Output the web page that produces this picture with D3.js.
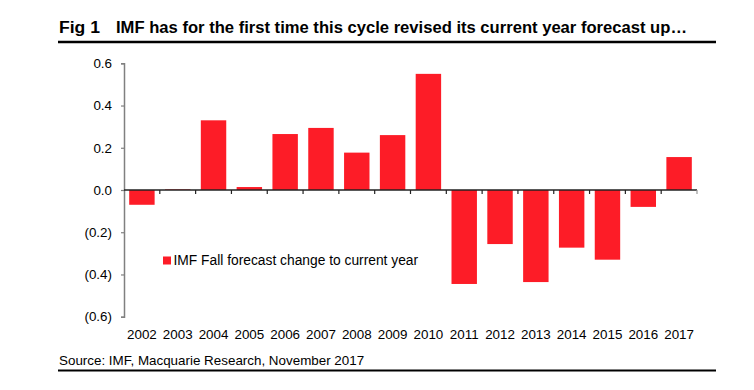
<!DOCTYPE html>
<html>
  <head>
    <meta charset="utf-8">
    <title>IMF forecast revisions</title>
    <script src="https://cdn.jsdelivr.net/npm/d3@7"></script>
    <style>
      body
      {
        margin: 0px;
        padding: 0px;
        background: white;
        font-family: "Liberation Sans", Arial, sans-serif;
      }

      .bar
      {
        fill: #fd1c27;
      }

      .tickLabel
      {
        font-size: 13.4px;
        fill: black;
      }
    </style>
  </head>
  <body>
    <svg id="chart"></svg>

    <script>

      //--- Data
      var years = ["2002", "2003", "2004", "2005", "2006", "2007", "2008", "2009",
                   "2010", "2011", "2012", "2013", "2014", "2015", "2016", "2017"];
      var revisions = [-0.07, 0.003, 0.33, 0.014, 0.265, 0.294, 0.177, 0.26,
                       0.55, -0.445, -0.256, -0.436, -0.273, -0.33, -0.08, 0.156];
      var yTicks = [-0.6, -0.4, -0.2, 0.0, 0.2, 0.4, 0.6];

      var titleFig = "Fig 1";
      var titleText = "IMF has for the first time this cycle revised its current year forecast up\u2026";
      var legendText = "IMF Fall forecast change to current year";
      var sourceText = "Source: IMF, Macquarie Research, November 2017";

      var width = 754, height = 390;

      var svg = d3.select("#chart")
          .attr("width", width)
          .attr("height", height);

      //--- Scales
      var x = d3.scaleBand()
          .domain(years)
          .range([124, 697])
          .paddingInner(0.29)
          .paddingOuter(0.145);

      var y = d3.scaleLinear()
          .domain([-0.6, 0.6])
          .range([316.7, 63.3]);

      var fmt = d => d < 0 ? "(" + Math.abs(d).toFixed(1) + ")" : d.toFixed(1);

      //--- Title
      svg.append("text")
          .attr("x", 59)
          .attr("y", 33)
          .attr("font-size", "16px")
          .attr("font-weight", "bold")
          .attr("textLength", 41)
          .attr("lengthAdjust", "spacingAndGlyphs")
          .text(titleFig);

      svg.append("text")
          .attr("x", 116)
          .attr("y", 33)
          .attr("font-size", "16px")
          .attr("font-weight", "bold")
          .attr("textLength", 571)
          .attr("lengthAdjust", "spacingAndGlyphs")
          .text(titleText);

      svg.append("line")
          .attr("x1", 58).attr("x2", 716)
          .attr("y1", 42).attr("y2", 42)
          .attr("stroke", "black")
          .attr("stroke-width", 2.5);

      //--- Bars
      svg.append("g")
          .selectAll("rect")
          .data(years)
          .enter()
            .append("rect")
              .classed("bar", true)
              .attr("x", d => x(d))
              .attr("width", x.bandwidth())
              .attr("y", (d, i) => y(Math.max(0, revisions[i])))
              .attr("height", (d, i) => Math.abs(y(revisions[i]) - y(0)));

      //--- Y axis
      var yAxis = svg.append("g")
          .attr("transform", "translate(124,0)")
          .call(d3.axisLeft(y).tickValues(yTicks).tickFormat(fmt).tickSize(3).tickPadding(9));

      yAxis.select(".domain").attr("stroke", "#808080").attr("stroke-width", 1.5);
      yAxis.selectAll(".tick line").attr("stroke", "#808080").attr("stroke-width", 1.2);
      yAxis.selectAll(".tick text")
          .classed("tickLabel", true)
          .attr("font-family", null)
          .attr("font-size", null);

      //--- Zero line with band ticks
      var zero = svg.append("g");
      zero.append("line")
          .attr("x1", 124).attr("x2", 697)
          .attr("y1", y(0)).attr("y2", y(0))
          .attr("stroke", "#222")
          .attr("stroke-width", 1.5);

      var bounds = years.map(d => x(d) - x.step() * x.paddingInner() / 2).slice(1);
      bounds.push(697);
      zero.selectAll("line.tick")
          .data(bounds)
          .enter()
            .append("line")
              .attr("x1", d => d).attr("x2", d => d)
              .attr("y1", y(0)).attr("y2", y(0) + 4)
              .attr("stroke", (d, i) => i == bounds.length - 1 ? "#999" : "#222")
              .attr("stroke-width", 1.2);

      //--- X labels
      svg.append("g")
          .selectAll("text")
          .data(years)
          .enter()
            .append("text")
              .classed("tickLabel", true)
              .attr("x", d => x(d) + x.bandwidth() / 2)
              .attr("y", 338.5)
              .attr("text-anchor", "middle")
              .text(d => d);

      //--- Legend
      svg.append("rect")
          .attr("x", 163).attr("y", 256.5)
          .attr("width", 8).attr("height", 8)
          .attr("fill", "#fd1c27");

      svg.append("text")
          .attr("x", 173.5)
          .attr("y", 265)
          .attr("font-size", "13.8px")
          .text(legendText);

      //--- Source
      svg.append("text")
          .attr("x", 59)
          .attr("y", 365)
          .attr("font-size", "13.4px")
          .text(sourceText);

      svg.append("line")
          .attr("x1", 58).attr("x2", 716)
          .attr("y1", 370.5).attr("y2", 370.5)
          .attr("stroke", "black")
          .attr("stroke-width", 2);

    </script>
  </body>
</html>
